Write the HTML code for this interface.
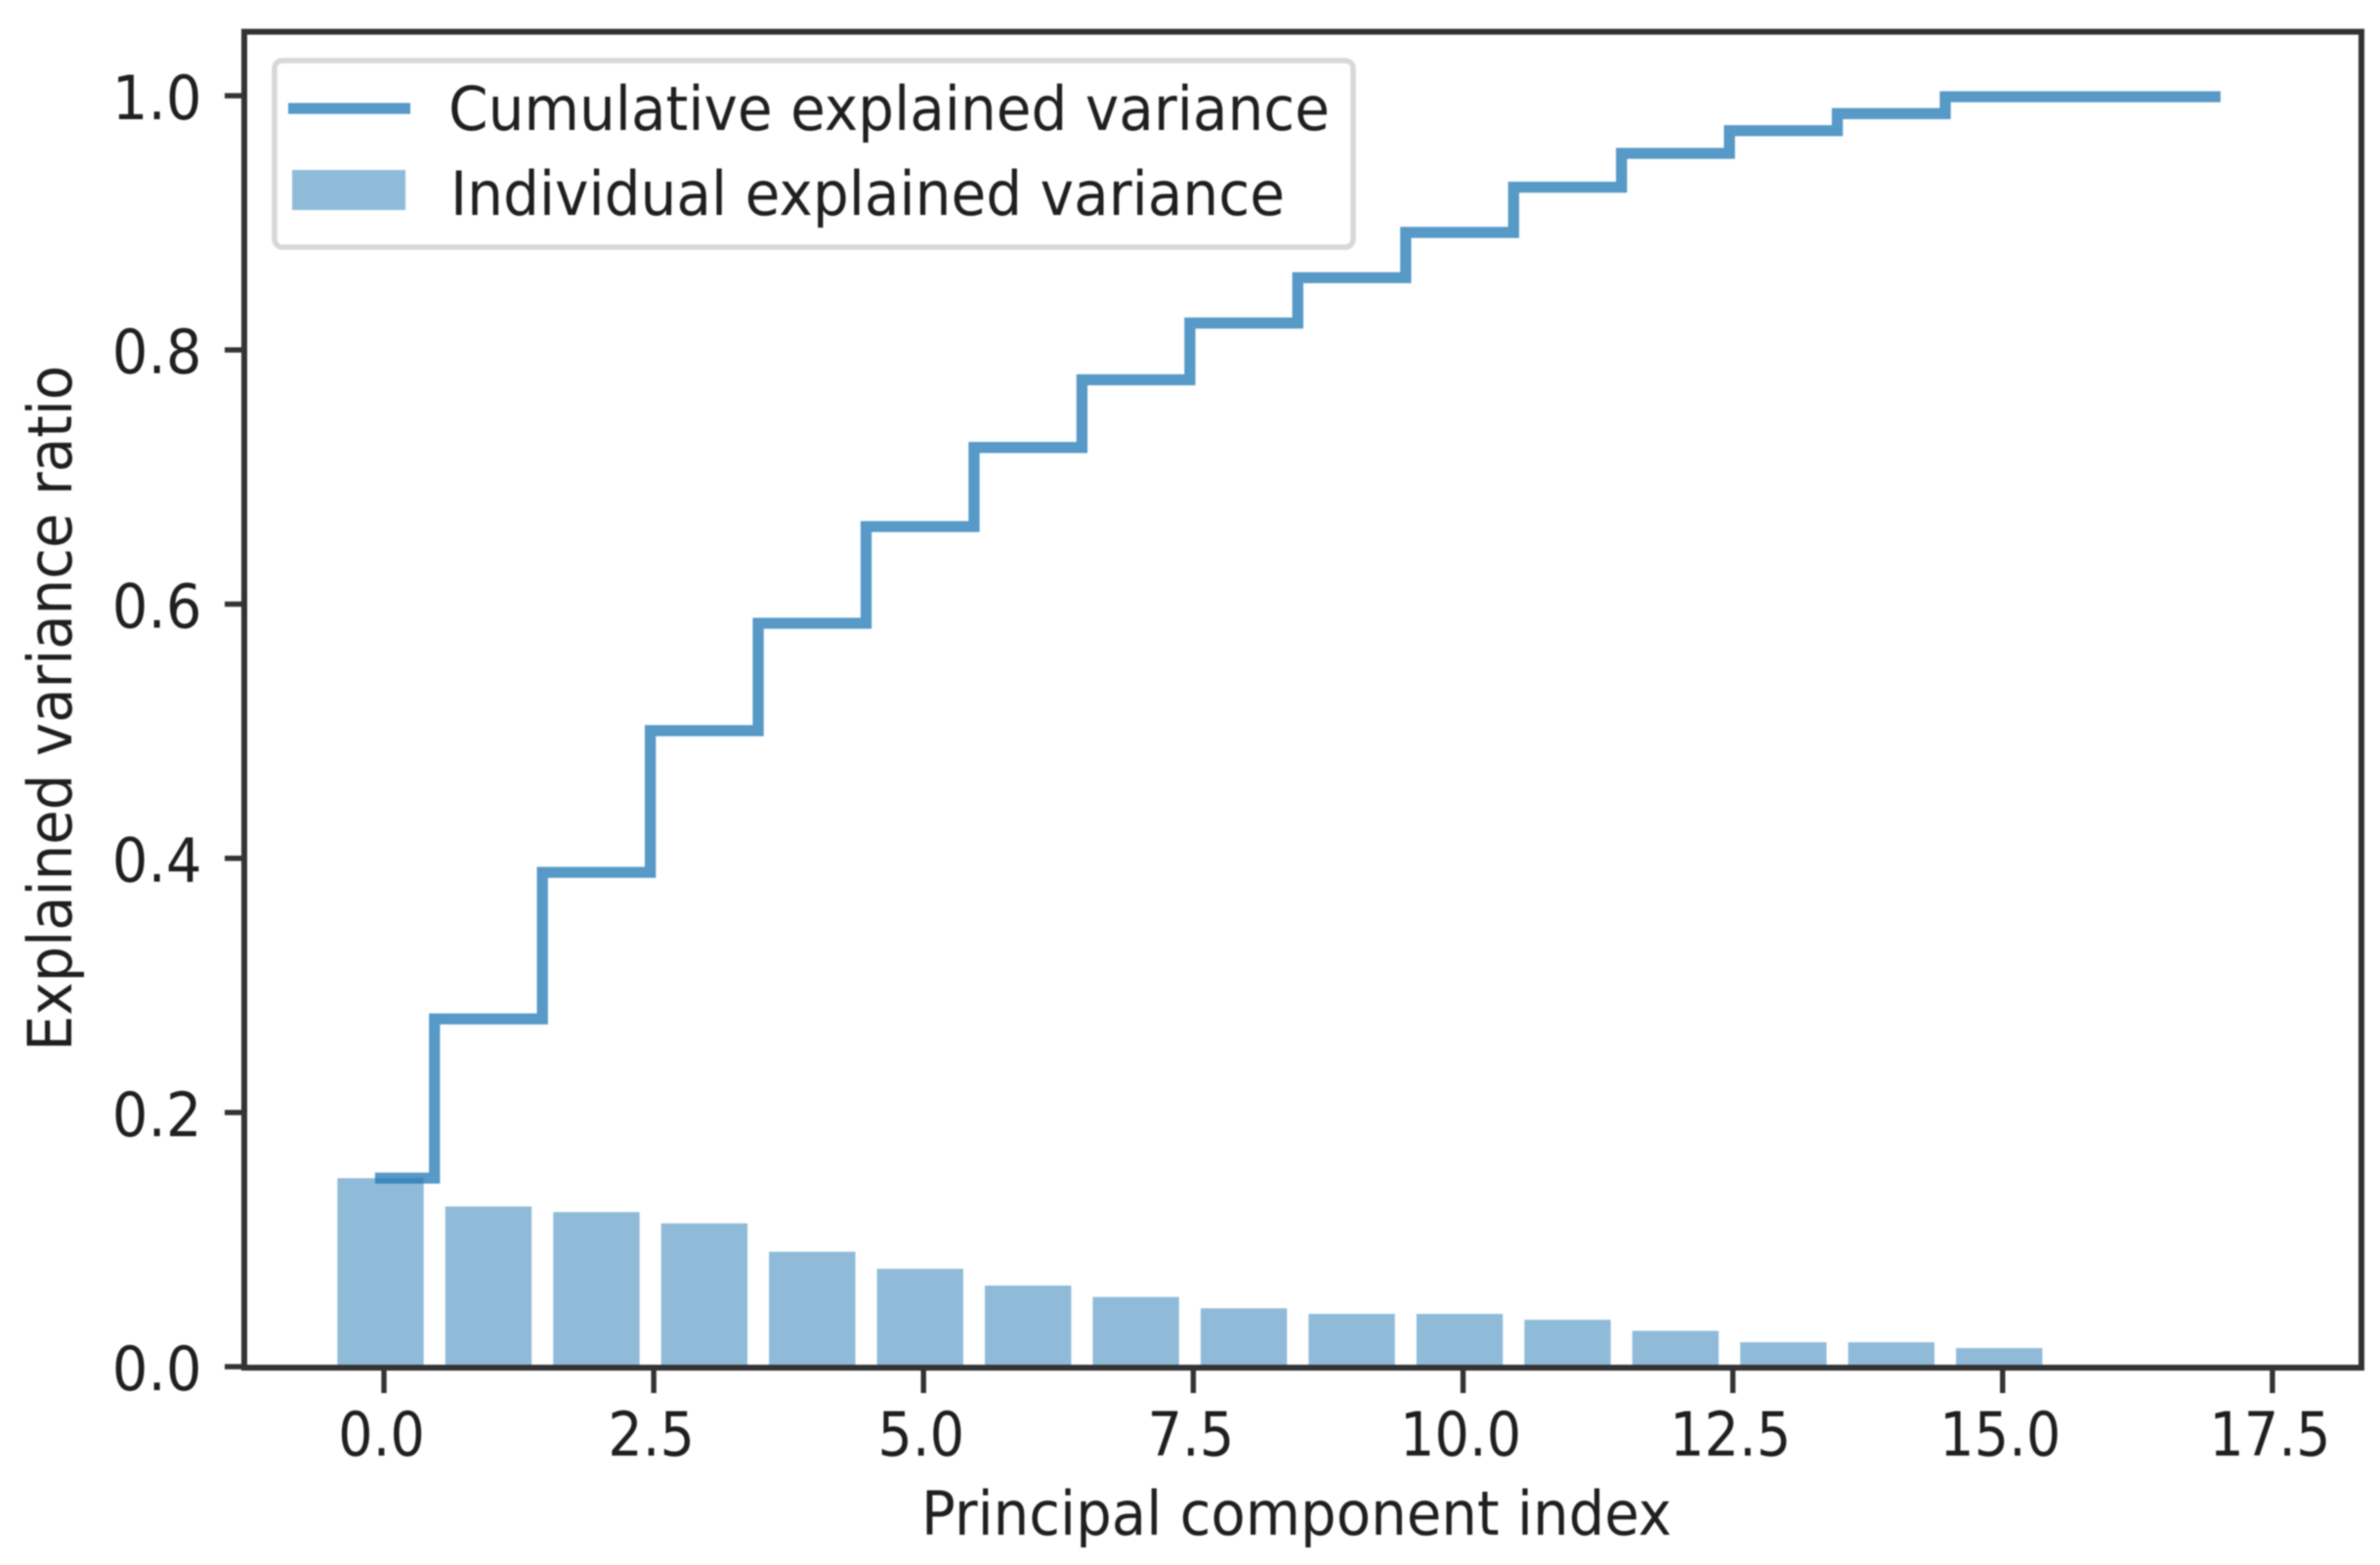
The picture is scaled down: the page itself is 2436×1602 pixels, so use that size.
<!DOCTYPE html>
<html lang="en">
<head>
<meta charset="utf-8">
<title>Explained variance by principal component</title>
<style>
  html, body { margin: 0; padding: 0; background: #ffffff; overflow: hidden; }
  svg { display: block; filter: blur(0.9px); }
  text { font-family: "DejaVu Sans", "Liberation Sans", sans-serif; fill: #1f1f1f; }
</style>
</head>
<body>
<svg id="chart" xmlns="http://www.w3.org/2000/svg" width="2436" height="1602" viewBox="0 0 2436 1602"></svg>
<script>
const categories = [0, 1, 2, 3, 4, 5, 6, 7, 8, 9, 10, 11, 12, 13, 14, 15, 16, 17];
const individualVariance = [0.1491, 0.1268, 0.1224, 0.1135, 0.0912, 0.0778, 0.0646, 0.0556, 0.0467, 0.0423, 0.0423, 0.0377, 0.0290, 0.0200, 0.0200, 0.0154, 0, 0];
const cumulativeVariance = [0.1491, 0.2744, 0.3897, 0.5012, 0.5857, 0.6618, 0.7240, 0.7773, 0.8219, 0.8576, 0.8932, 0.9288, 0.9554, 0.9733, 0.9867, 1.0, 1.0, 1.0];
const xTickValues = [0, 2.5, 5, 7.5, 10, 12.5, 15, 17.5];
const xTickLabels = ['0.0', '2.5', '5.0', '7.5', '10.0', '12.5', '15.0', '17.5'];
const yTickValues = [0, 0.2, 0.4, 0.6, 0.8, 1.0];
const yTickLabels = ['0.0', '0.2', '0.4', '0.6', '0.8', '1.0'];

const NS = 'http://www.w3.org/2000/svg';
const svg = document.getElementById('chart');

function xScale(v) { return 389.5 + 110.45 * v; }
function yScale(v) { return 1400 - 1301 * v; }

function make(tag, attrs, parent) {
  const node = document.createElementNS(NS, tag);
  for (const key in attrs) node.setAttribute(key, attrs[key]);
  (parent || svg).appendChild(node);
  return node;
}

const SPINE = '#333333';
const BAR_WIDTH = 0.8;

/* bars */
categories.forEach(function (c, i) {
  const left = xScale(c - BAR_WIDTH / 2);
  const right = xScale(c + BAR_WIDTH / 2);
  const top = yScale(individualVariance[i]);
  const el = make('rect', { x: left, y: top, width: right - left, height: yScale(0) - top, fill: '#1f77b4', 'fill-opacity': 0.5 });
  
  
});

/* cumulative step line (steps at the midpoint between categories) */
let stepPath = 'M' + xScale(categories[0]) + ' ' + yScale(cumulativeVariance[0]);
for (let i = 1; i < categories.length; i++) {
  const mid = xScale((categories[i - 1] + categories[i]) / 2);
  stepPath += ' L' + mid + ' ' + yScale(cumulativeVariance[i - 1]);
  stepPath += ' L' + mid + ' ' + yScale(cumulativeVariance[i]);
}
stepPath += ' L' + xScale(categories[categories.length - 1]) + ' ' + yScale(cumulativeVariance[cumulativeVariance.length - 1]);
const stepLine = make('path', { d: stepPath, fill: 'none', stroke: '#1f77b4', 'stroke-opacity': 0.75, 'stroke-width': 11.3, 'stroke-linecap': 'square', 'stroke-linejoin': 'miter' });



/* spines */
const frameTop = make('rect', { x: 247, y: 29.5, width: 2173, height: 6, fill: SPINE });


const frameBottom = make('rect', { x: 247, y: 1397, width: 2173, height: 6, fill: SPINE });


const frameLeft = make('rect', { x: 247, y: 29.5, width: 6, height: 1373.5, fill: SPINE });


const frameRight = make('rect', { x: 2414, y: 29.5, width: 6, height: 1373.5, fill: SPINE });



/* x ticks */
xTickValues.forEach(function (v, i) {
  const tick = make('rect', { x: xScale(v) + 3.5 - 2.7, y: 1403, width: 5.4, height: 23, fill: SPINE });
  
  
  const label = make('text', { transform: 'translate(' + (xScale(v) + 1) + ' 1490) scale(0.9 1)', 'font-size': 62, 'text-anchor': 'middle' });
  label.textContent = xTickLabels[i];
  
  
});

/* y ticks */
yTickValues.forEach(function (v, i) {
  const tick = make('rect', { x: 230, y: yScale(v) - 1 - 2.7, width: 18, height: 5.4, fill: SPINE });
  
  
  const label = make('text', { transform: 'translate(206.5 ' + (yScale(v) + 23) + ') scale(0.93 1)', 'font-size': 62, 'text-anchor': 'end' });
  label.textContent = yTickLabels[i];
  
  
});

/* axis titles */
const xTitle = make('text', { x: 943, y: 1571, 'font-size': 62, textLength: 768, lengthAdjust: 'spacingAndGlyphs' });
xTitle.textContent = 'Principal component index';



const yTitle = make('text', { transform: 'translate(73 1076) rotate(-90)', 'font-size': 62, textLength: 702, lengthAdjust: 'spacingAndGlyphs' });
yTitle.textContent = 'Explained variance ratio';



/* legend */
const legend = make('g', {});



const legendFrame = make('rect', { x: 281, y: 62, width: 1104, height: 191, rx: 8, ry: 8, fill: '#ffffff', stroke: '#d8d8d8', 'stroke-width': 5.5 }, legend);



const legendLine = make('line', { x1: 295, y1: 111, x2: 420, y2: 111, stroke: '#1f77b4', 'stroke-opacity': 0.75, 'stroke-width': 11.3 }, legend);



const legendLineLabel = make('text', { x: 459, y: 133, 'font-size': 62, textLength: 902, lengthAdjust: 'spacingAndGlyphs' }, legend);
legendLineLabel.textContent = 'Cumulative explained variance';



const legendPatch = make('rect', { x: 299, y: 174, width: 116, height: 41, fill: '#1f77b4', 'fill-opacity': 0.5 }, legend);



const legendBarLabel = make('text', { x: 461, y: 220, 'font-size': 62, textLength: 854, lengthAdjust: 'spacingAndGlyphs' }, legend);
legendBarLabel.textContent = 'Individual explained variance';


</script>
</body>
</html>
